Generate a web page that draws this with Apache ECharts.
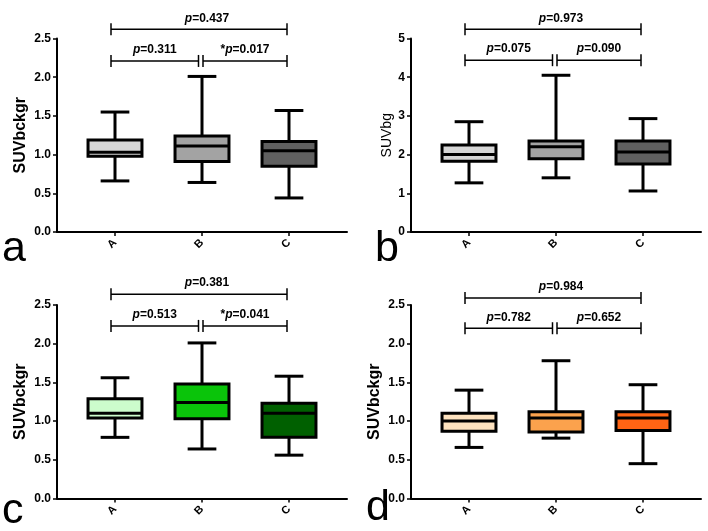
<!DOCTYPE html>
<html>
<head>
<meta charset="utf-8">
<script src="https://cdn.jsdelivr.net/npm/echarts@6/dist/echarts.min.js"></script>
<style>
html, body { margin: 0; padding: 0; background: #fff; }
#main { width: 708px; height: 531px; }
</style>
</head>
<body>
<div id="main"></div>
<script>
var groups = ['A', 'B', 'C'];

// [min, Q1, median, Q3, max] for A, B, C
var boxA = [[0.66, 0.98, 1.03, 1.19, 1.55], [0.64, 0.91, 1.11, 1.24, 2.01], [0.44, 0.85, 1.05, 1.17, 1.57]];
var boxB = [[1.27, 1.83, 2.00, 2.25, 2.85], [1.40, 1.89, 2.20, 2.35, 4.05], [1.06, 1.76, 2.07, 2.35, 2.93]];
var boxC = [[0.79, 1.04, 1.10, 1.29, 1.56], [0.64, 1.03, 1.24, 1.48, 2.01], [0.56, 0.79, 1.10, 1.23, 1.58]];
var boxD = [[0.66, 0.87, 1.00, 1.10, 1.40], [0.78, 0.86, 1.04, 1.12, 1.78], [0.45, 0.88, 1.04, 1.12, 1.47]];

// comparisons A-B, B-C, A-C
var pairs = [[0, 1], [1, 2], [0, 2]];
var pTextA = ['p=0.311', '*p=0.017', 'p=0.437'];
var pTextB = ['p=0.075', 'p=0.090', 'p=0.973'];
var pTextC = ['p=0.513', '*p=0.041', 'p=0.381'];
var pTextD = ['p=0.782', 'p=0.652', 'p=0.984'];
var pLevelA = [2.21, 2.21, 2.62];
var pLevelB = [4.44, 4.44, 5.24];
var pLevelC = [2.23, 2.23, 2.64];
var pLevelD = [2.20, 2.20, 2.59];

var grayColors = ['#d6d6d6', '#a3a3a3', '#606060'];
var greenColors = ['#ccfccc', '#0ac40a', '#006000'];
var orangeColors = ['#fde2bf', '#fba24d', '#ff6414'];

var FONT = '"Liberation Sans", Arial, sans-serif';

function boxRenderer(colors) {
	return function (params, api) {
		var x = api.value(0);
		var lo = api.coord([x, api.value(1)]);
		var q1 = api.coord([x, api.value(2)]);
		var md = api.coord([x, api.value(3)]);
		var q3 = api.coord([x, api.value(4)]);
		var hi = api.coord([x, api.value(5)]);
		var band = api.size([1, 0])[0];
		var bw = band * 0.62, cw = band * 0.33;
		var cx = lo[0];
		var st = { stroke: '#000', lineWidth: 3 };
		return {
			type: 'group',
			children: [
				{ type: 'line', shape: { x1: cx, y1: hi[1], x2: cx, y2: q3[1] }, style: st },
				{ type: 'line', shape: { x1: cx, y1: q1[1], x2: cx, y2: lo[1] }, style: st },
				{ type: 'line', shape: { x1: cx - cw / 2, y1: hi[1], x2: cx + cw / 2, y2: hi[1] }, style: st },
				{ type: 'line', shape: { x1: cx - cw / 2, y1: lo[1], x2: cx + cw / 2, y2: lo[1] }, style: st },
				{ type: 'rect', shape: { x: cx - bw / 2, y: q3[1], width: bw, height: q1[1] - q3[1] },
					style: { fill: colors[params.dataIndex], stroke: '#000', lineWidth: 3 } },
				{ type: 'line', shape: { x1: cx - bw / 2, y1: md[1], x2: cx + bw / 2, y2: md[1] }, style: st }
			]
		};
	};
}

function bracketRenderer(texts) {
	return function (params, api) {
		var a = api.value(0), b = api.value(1), lv = api.value(2);
		var p1 = api.coord([a, lv]), p2 = api.coord([b, lv]);
		var x1 = p1[0] + (a === 1 ? 1 : -4);
		var x2 = p2[0] + (b === 1 ? -3.5 : -2);
		var y = p1[1];
		var st = { stroke: '#000', lineWidth: 1.5 };
		return {
			type: 'group',
			children: [
				{ type: 'line', shape: { x1: x1, y1: y, x2: x2, y2: y }, style: st },
				{ type: 'line', shape: { x1: x1, y1: y - 6, x2: x1, y2: y + 6 }, style: st },
				{ type: 'line', shape: { x1: x2, y1: y - 6, x2: x2, y2: y + 6 }, style: st },
				{
					type: 'text',
					x: (x1 + x2) / 2 + (b - a > 1 ? 8 : 0),
					y: y - 5,
					style: {
						text: texts[params.dataIndex].replace('p', '{i|p}'),
						fontSize: 12, fontWeight: 'bold', fontFamily: FONT, fill: '#000',
						align: 'center', verticalAlign: 'bottom',
						rich: { i: { fontSize: 12, fontWeight: 'bold', fontStyle: 'italic', fontFamily: FONT, color: '#000' } }
					}
				}
			]
		};
	};
}

var gridPos = [
	{ left: 57, top: 38.5, width: 290, height: 193.5 },
	{ left: 411, top: 38.5, width: 290, height: 193.5 },
	{ left: 57, top: 305, width: 290, height: 193.5 },
	{ left: 411, top: 305, width: 290, height: 193.5 }
];

var panels = [
	{ box: boxA, colors: grayColors, texts: pTextA, levels: pLevelA, max: 2.5, step: 0.5, name: 'SUVbckgr', bold: true, gap: 28, digits: 1 },
	{ box: boxB, colors: grayColors, texts: pTextB, levels: pLevelB, max: 5, step: 1, name: 'SUVbg', bold: false, gap: 17, digits: 0 },
	{ box: boxC, colors: greenColors, texts: pTextC, levels: pLevelC, max: 2.5, step: 0.5, name: 'SUVbckgr', bold: true, gap: 28, digits: 1 },
	{ box: boxD, colors: orangeColors, texts: pTextD, levels: pLevelD, max: 2.5, step: 0.5, name: 'SUVbckgr', bold: true, gap: 28, digits: 1 }
];

var grids = [], xAxes = [], yAxes = [], series = [];
var axisLineStyle = { color: '#000', width: 2 };

panels.forEach(function (p, i) {
	grids.push(gridPos[i]);
	xAxes.push({
		type: 'value', gridIndex: i, min: -2 / 3, max: 8 / 3,
		axisLine: { show: true, onZero: false, lineStyle: axisLineStyle },
		axisTick: { show: true, customValues: [0, 1, 2], length: 4, lineStyle: { color: '#000', width: 1.5 } },
		axisLabel: {
			customValues: [0, 1, 2], rotate: 45, margin: 9,
			formatter: function (v) { return groups[Math.round(v)]; },
			fontSize: 11, fontWeight: 'bold', fontFamily: FONT, color: '#000'
		},
		splitLine: { show: false }
	});
	yAxes.push({
		type: 'value', gridIndex: i, min: 0, max: p.max, interval: p.step,
		name: p.name, nameLocation: 'middle', nameGap: p.gap,
		nameTextStyle: { fontSize: p.bold ? 16 : 14, fontWeight: p.bold ? 'bold' : 'normal', fontFamily: FONT, color: '#000' },
		axisLine: { show: true, onZero: false, lineStyle: axisLineStyle },
		axisTick: { show: true, length: 4, lineStyle: { color: '#000', width: 1.5 } },
		axisLabel: {
			margin: 6, fontSize: 12, fontWeight: 'bold', fontFamily: FONT, color: '#000',
			formatter: (function (d) { return function (v) { return v.toFixed(d); }; })(p.digits)
		},
		splitLine: { show: false }
	});
	series.push({
		type: 'custom', xAxisIndex: i, yAxisIndex: i,
		renderItem: boxRenderer(p.colors),
		encode: { x: 0, y: [1, 2, 3, 4, 5] },
		data: p.box.map(function (b, k) { return [k].concat(b); }),
		silent: true
	});
	series.push({
		type: 'custom', xAxisIndex: i, yAxisIndex: i,
		renderItem: bracketRenderer(p.texts),
		encode: { x: [0, 1], y: 2 },
		data: pairs.map(function (pr, k) { return [pr[0], pr[1], p.levels[k]]; }),
		clip: false,
		silent: true
	});
});

var letterStyle = { fontSize: 43, fontWeight: 'normal', fontFamily: FONT, color: '#000' };
var titles = [
	{ text: 'a', left: 2, top: 228, padding: 0, textStyle: letterStyle },
	{ text: 'b', left: 375, top: 228, padding: 0, textStyle: letterStyle },
	{ text: 'c', left: 2, top: 490, padding: 0, textStyle: letterStyle },
	{ text: 'd', left: 366, top: 487, padding: 0, textStyle: letterStyle }
];

var myChart = echarts.init(document.getElementById('main'));
myChart.setOption({
	animation: false,
	backgroundColor: '#fff',
	title: titles,
	grid: grids,
	xAxis: xAxes,
	yAxis: yAxes,
	series: series
});
</script>
</body>
</html>
